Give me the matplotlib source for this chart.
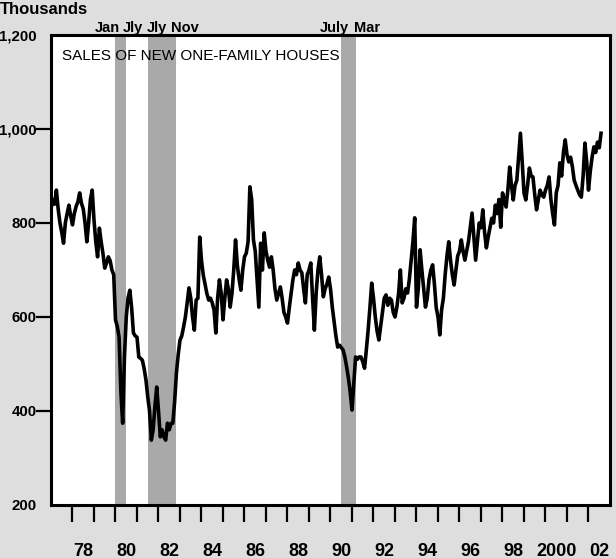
import numpy as np
import matplotlib
matplotlib.use("Agg")
import matplotlib.pyplot as plt

plt.rcParams['font.family'] = ['Liberation Sans', 'DejaVu Sans']

# monthly sales of new one-family houses, thousands
start_year = 1977
sales = [
    831, 850, 840, 870, 830, 800, 780, 757, 800, 820, 838, 815,   # 1977
    796, 820, 835, 845, 864, 842, 830, 800, 760, 800, 850, 870,   # 1978
    806, 760, 728, 789, 760, 735, 704, 715, 728, 720, 700, 690,   # 1979
    594, 580, 557, 440, 374, 515, 600, 640, 657, 620, 566, 560,   # 1980
    557, 515, 512, 508, 490, 466, 430, 400, 338, 360, 410, 451,   # 1981
    400, 345, 360, 345, 338, 374, 360, 374, 374, 420, 481, 520,   # 1982
    551, 560, 579, 600, 630, 662, 640, 600, 572, 636, 640, 770,   # 1983
    720, 689, 670, 650, 636, 640, 630, 615, 566, 640, 679, 650,   # 1984
    594, 640, 679, 660, 621, 650, 700, 764, 710, 680, 657, 700,   # 1985
    728, 736, 760, 877, 850, 764, 740, 680, 621, 757, 700, 779,   # 1986
    740, 720, 706, 728, 700, 660, 636, 650, 664, 640, 610, 600,   # 1987
    587, 620, 650, 679, 700, 690, 715, 700, 694, 660, 630, 690,   # 1988
    700, 715, 640, 572, 651, 700, 728, 690, 643, 660, 670, 685,   # 1989
    660, 621, 590, 560, 536, 540, 535, 530, 515, 494, 470, 440,   # 1990
    402, 460, 515, 510, 515, 515, 505, 491, 530, 572, 620, 672,   # 1991
    640, 600, 570, 551, 580, 610, 640, 647, 625, 640, 636, 610,   # 1992
    600, 620, 650, 700, 630, 640, 660, 651, 680, 721, 760, 811,   # 1993
    621, 660, 743, 700, 660, 621, 640, 680, 700, 711, 670, 620,   # 1994
    600, 562, 615, 640, 690, 730, 760, 720, 690, 668, 700, 730,   # 1995
    740, 764, 740, 721, 740, 760, 790, 821, 770, 721, 760, 800,   # 1996
    790, 828, 780, 747, 770, 790, 810, 800, 838, 820, 850, 791,   # 1997
    864, 850, 834, 870, 919, 880, 849, 880, 891, 940, 991, 930,   # 1998
    864, 849, 880, 917, 900, 898, 860, 828, 850, 870, 860, 855,   # 1999
    870, 880, 898, 850, 820, 796, 864, 880, 928, 900, 950, 977,   # 2000
    945, 930, 940, 920, 891, 880, 870, 860, 855, 900, 970, 930,   # 2001
    870, 910, 940, 962, 950, 972, 960, 991,                       # 2002
]
months = start_year + np.arange(len(sales)) / 12.0

# recessions (start, end) in fractional years
recessions = [(1980.0, 1980.5), (1981.5, 1982.83), (1990.5, 1991.17)]
recession_labels = [("Jan", 1979.63), ("Jly", 1980.79), ("Jly", 1981.91),
                    ("Nov", 1983.23), ("July", 1990.2), ("Mar", 1991.72)]

year_ticks = list(range(1978, 2003))
label_years = [1978, 1980, 1982, 1984, 1986, 1988, 1990, 1992, 1994, 1996, 1998, 2000, 2002]
label_text = ["78", "80", "82", "84", "86", "88", "90", "92", "94", "96", "98", "2000", "02"]
y_ticks = [200, 400, 600, 800, 1000, 1200]
y_text = ["200", "400", "600", "800", "1,000", "1,200"]

narrow = ['Liberation Sans Narrow', 'Liberation Sans', 'DejaVu Sans']

fig = plt.figure(figsize=(6.16, 5.58), dpi=100, facecolor='#dedede')
ax = fig.add_axes([51/616, 1-505/558, 559/616, 470/558])
ax.set_facecolor('white')

for a, b in recessions:
    ax.axvspan(a, b, color='#a9a9a9', lw=0, zorder=1)

ax.plot(months, sales, color='black', lw=2.6, zorder=3)

ax.set_xlim(1977, 2003)
ax.set_ylim(200, 1200)

for s in ax.spines.values():
    s.set_linewidth(2.2)

ax.set_xticks(year_ticks)
ax.set_xticklabels([])
ax.tick_params(axis='x', which='major', direction='out', length=12, width=1.6)
ax.set_xticks([y + 0.5 for y in label_years], minor=True)
ax.set_xticklabels(label_text, minor=True, fontsize=13, fontweight='bold', family=narrow)
ax.tick_params(axis='x', which='minor', length=0, pad=27)

ax.set_yticks(y_ticks)
ax.set_yticklabels(y_text, fontsize=10.8, fontweight='bold', family=narrow)
ax.tick_params(axis='y', direction='out', length=10.5, width=1.6, pad=0)
yl = ax.yaxis.get_major_ticks()
yl[0].tick1line.set_visible(False)
yl[-1].tick1line.set_visible(False)

ax.text(0.02, 0.955, "SALES OF NEW ONE-FAMILY HOUSES", transform=ax.transAxes,
        fontsize=11, va='center', ha='left', zorder=4)

for txt, xpos in recession_labels:
    ax.text(xpos, 1.0 + 7/470, txt, transform=ax.get_xaxis_transform(),
            fontsize=10.5, fontweight='bold', ha='center', va='center',
            clip_on=False, family=narrow)

fig.text(0.0, 1 - 9/558, "Thousands", fontsize=12, fontweight='bold',
         ha='left', va='center')

fig.savefig("out.png", dpi=100, facecolor=fig.get_facecolor())
